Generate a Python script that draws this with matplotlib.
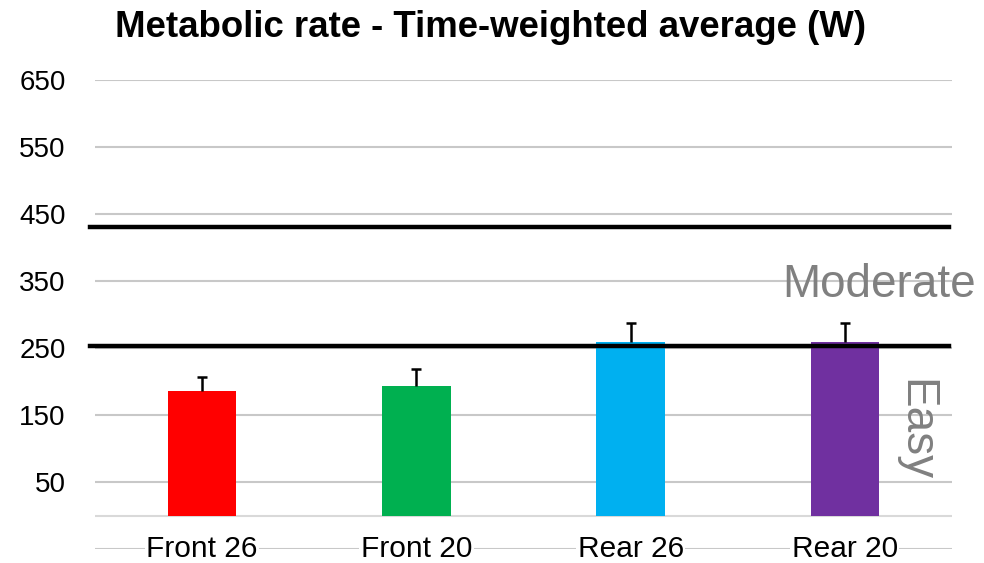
import matplotlib
matplotlib.use('Agg')
import matplotlib.pyplot as plt

plt.rcParams['font.family'] = ['Liberation Sans', 'DejaVu Sans']

categories = ['Front 26', 'Front 20', 'Rear 26', 'Rear 20']
means = [186, 193, 259, 259]
errors = [20, 25, 29, 29]
colors = ['#FF0000', '#00B050', '#00B0F0', '#7030A0']
yticks = [-50, 50, 150, 250, 350, 450, 550, 650]
limits = [253, 430]   # easy / moderate boundaries

fig = plt.figure(figsize=(9.84, 5.63), dpi=100)
ax = fig.add_axes([95/984, 14/563, 857/984, 469/563])

x = list(range(len(categories)))
tops = [m + e for m, e in zip(means, errors)]
ax.bar(x, means, width=0.32, color=colors, zorder=2)
# upper error bars only
ax.vlines(x, means, tops, color='black', lw=1.8, zorder=3)
ax.scatter(x, tops, marker='_', s=60, color='black', linewidths=1.8, zorder=3)

for v in limits:
    ax.plot([-0.523, 3.485], [v, v], color='black', lw=3.2, clip_on=False, zorder=4)

ax.set_xlim(-0.5, 3.5)
ax.set_ylim(-50, 650)
ax.set_yticks(yticks)
ax.set_yticklabels(['' if t < 0 else str(t) for t in yticks], fontsize=20)
ax.tick_params(axis='y', length=0, pad=21)
ax.set_xticks([])
ax.grid(axis='y', color='#C8C8C8', lw=1.5, zorder=0)
ax.axhline(0, color='#D9D9D9', lw=1.5, zorder=1)
for s in ax.spines.values():
    s.set_visible(False)

for i, c in enumerate(categories):
    ax.text(i, -50, c, ha='center', va='center', fontsize=21.5, zorder=5,
            bbox=dict(facecolor='white', edgecolor='none', pad=1))

ax.text(3.61, 344, 'Moderate', color='#808080', fontsize=33, ha='right',
        va='center', zorder=5, clip_on=False)
ax.text(3.33, 128, 'Easy', color='#808080', fontsize=33, ha='center',
        va='center', rotation=-90, zorder=5)

fig.text(0.499, 0.952, 'Metabolic rate - Time-weighted average (W)',
         fontsize=26.4, fontweight='bold', ha='center', va='center')

fig.savefig('out.png', dpi=100)
